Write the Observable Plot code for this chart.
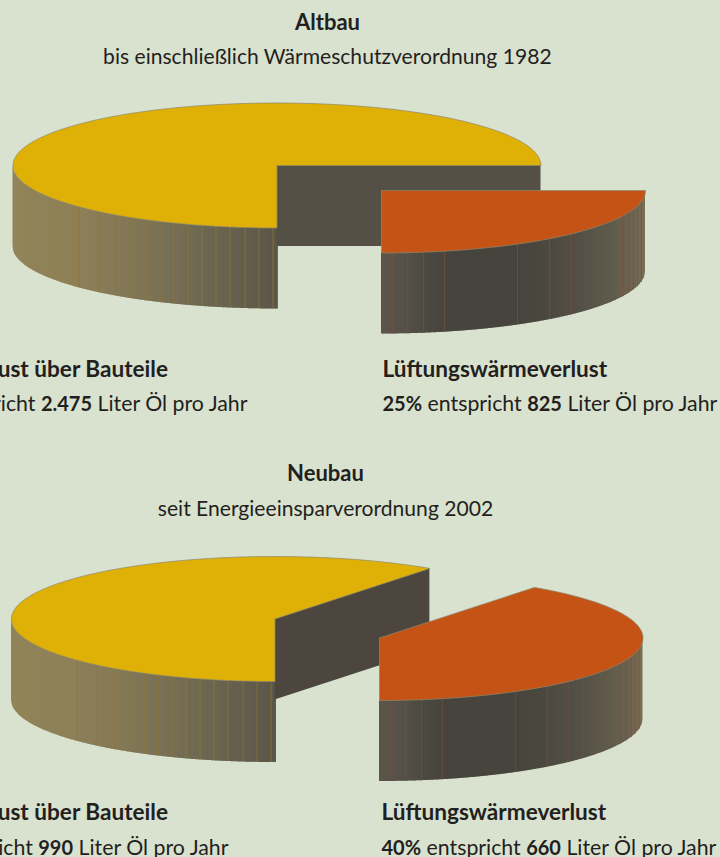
<!DOCTYPE html>
<html lang="de">
<head>
<meta charset="utf-8">
<script src="https://cdn.jsdelivr.net/npm/d3@7"></script>
<script src="https://cdn.jsdelivr.net/npm/@observablehq/plot@0.6"></script>
<style>
  html, body { margin: 0; padding: 0; background: #d9e2cf; }
  #chart { width: 720px; height: 857px; overflow: hidden; }
  svg { display: block; }
</style>
</head>
<body>
<div id="chart"></div>
<script>
// Heat loss of a house, old and new building standard
const titles = ["Altbau", "Neubau"];
const subtitles = ["bis einschließlich Wärmeschutzverordnung 1982", "seit Energieeinsparverordnung 2002"];
const categories = ["Transmissionswärmeverlust über Bauteile", "Lüftungswärmeverlust"];
const sharesAlt = [75, 25];
const sharesNeu = [60, 40];
const litersAlt = [2475, 825];
const litersNeu = [990, 660];

const W = 720, H = 857;
const FONT = "Lato", INK = "#231f20";
const SIZE_TEXT = 21.1, SIZE_LINE = 21.3, SIZE_HEAD = 22, SIZE_CAT = 22.6, SIZE_NUM = 20;
const YELLOW = "#dfb106", ORANGE = "#c45315", EDGE = "#8b8870";

const layouts = [
  {title: [327, 22], sub: [327, 57], left: [276.5, 165], right: [381, 190], rx: 264, ry: 62.5,
   depth: 81, inner: "#555045", label: [369, 404], ends: [168, 248], start: 382},
  {title: [325, 473], sub: [325, 509], left: [274.5, 618.5], right: [379, 637.5], rx: 263.5, ry: 62.5,
   depth: 81, inner: "#4c463f", label: [812, 848], ends: [168, 229], start: 381}
];

// Shading along the round walls, by horizontal offset from the slice's centre
const yellowShade = d3.scaleLinear()
  .domain([-1, -0.75, -0.5, -0.33, -0.15, 0, 0.02])
  .range(["#928458", "#8d7f57", "#7f7555", "#716b53", "#65604e", "#5b5648", "#5b5648"]);
const orangeShade = d3.scaleLinear()
  .domain([0, 0.07, 0.16, 0.24, 0.52, 0.64, 0.76, 0.86, 0.95, 1])
  .range(["#5b5549", "#57514a", "#4d4a41", "#46443d", "#46443d", "#4d4940", "#544f47", "#5d5a4a", "#6c6350", "#7a6d52"]);

// Seam lines on the round walls, as offsets from the slice's centre in rx units
const yellowSeams = [-198, -178, -161, -146, -131, -117, -103, -89, -75, -61, -47, -32, -18, -4].map(d => d / 264);
const orangeSeams = [11, 26, 42, 63, 136, 168, 189, 204, 216, 226, 234, 241, 247, 252, 256, 260].map(d => d / 264);

const rimPoint = (p, sign, a) => ({
  x: p.cx + sign * p.rx * Math.sin(a),
  y: p.cy + p.ry * Math.cos(a)
});

// Top face of a slice: centre, then the arc from due south for its share of the circle
function sector(p, sign, share) {
  const end = 2 * Math.PI * share / 100, n = Math.ceil(share * 4), pts = [{x: p.cx, y: p.cy}];
  for (let i = 0; i <= n; ++i) pts.push(rimPoint(p, sign, end * i / n));
  pts.push({x: p.cx, y: p.cy});
  return pts;
}

// Round wall as narrow shaded strips between two x offsets (rx units);
// each strip runs slightly under the next one so no seams show through
function wall(p, from, to, shade) {
  const rows = [], step = 2 / p.rx, overlap = 0.8 / p.rx;
  let id = 0;
  for (let u = from; u < to - 1e-9; u += step) {
    const v = Math.min(u + step + overlap, to), fill = shade(u + step / 2);
    const n = 4;
    for (let k = 0; k <= n; ++k) {
      const w = u + (v - u) * k / n;
      const c = Math.min(1, Math.abs(w));
      const y1 = p.cy + p.ry * Math.sqrt(1 - c * c);
      rows.push({id, fill, x: p.cx + w * p.rx, y1, y2: y1 + p.depth});
    }
    id++;
  }
  return rows;
}

const seams = (p, list) => list.map(u => {
  const y1 = p.cy + p.ry * Math.sqrt(1 - u * u);
  return {x: p.cx + u * p.rx, y1, y2: y1 + p.depth};
});

// Text with bold and regular runs in one line, placed by measured widths
const ctx = document.createElement("canvas").getContext("2d");
const measure = (t, bold, size) => {
  ctx.font = `${bold ? 700 : 400} ${size}px ${FONT}`;
  return ctx.measureText(t).width;
};
function placeRuns(runs, x, y, anchor) {
  const total = d3.sum(runs, r => measure(r[0], r[1], r[2]));
  let at = anchor === "end" ? x - total : anchor === "middle" ? x - total / 2 : x;
  return runs.map(([t, bold, size]) => {
    const row = {t, bold, size, x: at, y};
    at += measure(t, bold, size);
    return row;
  });
}

const de = d3.format(",");
const liters = v => de(v).replace(",", ".");
const textRows = [];
const pieMarks = [];

[[sharesAlt, litersAlt], [sharesNeu, litersNeu]].forEach(([shares, amount], i) => {
  const L = layouts[i];
  const left = {cx: L.left[0], cy: L.left[1], rx: L.rx, ry: L.ry, depth: L.depth};
  const right = {cx: L.right[0], cy: L.right[1], rx: L.rx, ry: L.ry, depth: L.depth};

  // Larger slice: round wall, cut wall along its far radius, then the top
  const rim = rimPoint(left, -1, 2 * Math.PI * shares[0] / 100);
  const cut = [
    {x: left.cx, y1: left.cy, y2: left.cy + left.depth},
    {x: rim.x, y1: rim.y, y2: rim.y + left.depth}
  ];
  pieMarks.push(
    Plot.areaY(wall(left, -1, 0.005, yellowShade), {x: "x", y1: "y1", y2: "y2", z: "id", fill: "fill"}),
    Plot.ruleX(seams(left, yellowSeams), {x: "x", y1: "y1", y2: "y2", stroke: "#8f7a32", strokeWidth: 0.7}),
    Plot.areaY(cut, {x: "x", y1: "y1", y2: "y2", fill: L.inner}),
    Plot.line(sector(left, -1, shares[0]), {x: "x", y: "y", fill: YELLOW, stroke: EDGE, strokeWidth: 0.7, curve: "linear"}),
    // Smaller slice, pulled out towards the lower right
    Plot.areaY(wall(right, 0, 1, orangeShade), {x: "x", y1: "y1", y2: "y2", z: "id", fill: "fill"}),
    Plot.ruleX(seams(right, orangeSeams), {x: "x", y1: "y1", y2: "y2", stroke: "#75523c", strokeWidth: 0.7}),
    Plot.line(sector(right, 1, shares[1]), {x: "x", y: "y", fill: ORANGE, stroke: EDGE, strokeWidth: 0.7, curve: "linear"})
  );

  textRows.push(...placeRuns([[titles[i], true, SIZE_HEAD]], L.title[0], L.title[1], "middle"));
  textRows.push(...placeRuns([[subtitles[i], false, SIZE_TEXT]], L.sub[0], L.sub[1], "middle"));
  const line = k => [[`${shares[k]}%`, true, SIZE_NUM], [" entspricht ", false, SIZE_LINE], [liters(amount[k]), true, SIZE_NUM], [" Liter Öl pro Jahr", false, SIZE_LINE]];
  textRows.push(...placeRuns([[categories[0], true, SIZE_CAT]], L.ends[0], L.label[0], "end"));
  textRows.push(...placeRuns(line(0), L.ends[1], L.label[1], "end"));
  textRows.push(...placeRuns([[categories[1], true, SIZE_CAT]], L.start, L.label[0]));
  textRows.push(...placeRuns(line(1), L.start, L.label[1]));
});

const textStyle = {x: "x", y: "y", text: "t", fontSize: "size", textAnchor: "start", lineAnchor: "middle",
  fill: INK, fontFamily: FONT};

const chart = Plot.plot({
  width: W, height: H, margin: 0,
  style: {background: "#d9e2cf"},
  x: {domain: [0, W], range: [0, W], axis: null},
  y: {domain: [0, H], range: [0, H], axis: null},
  color: {type: "identity"},
  marks: [
    ...pieMarks,
    Plot.text(textRows.filter(d => !d.bold), {...textStyle, fontWeight: 400}),
    Plot.text(textRows.filter(d => d.bold), {...textStyle, fontWeight: 700})
  ]
});
document.getElementById("chart").append(chart);
</script>
</body>
</html>
